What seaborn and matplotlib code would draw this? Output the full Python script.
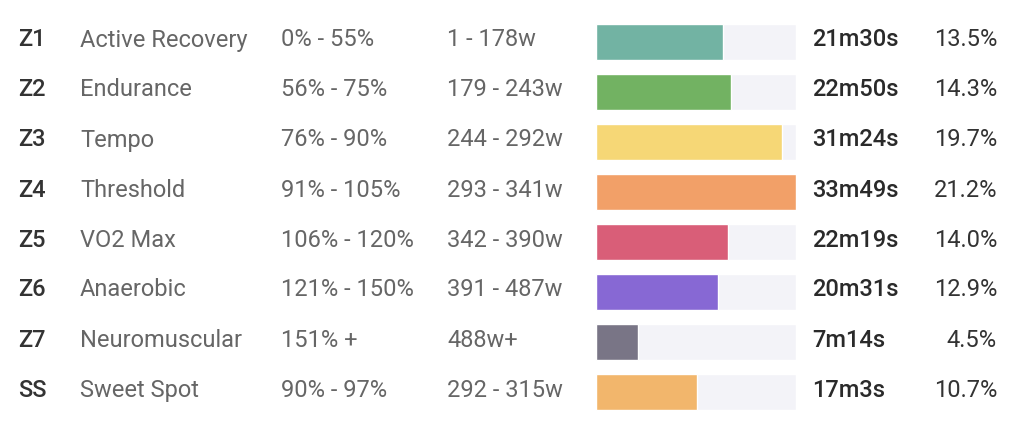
import matplotlib
matplotlib.use("Agg")
import matplotlib.pyplot as plt
import matplotlib.transforms as mtransforms
import seaborn as sns
import pandas as pd

zones = ["Z1", "Z2", "Z3", "Z4", "Z5", "Z6", "Z7", "SS"]
names = ["Active Recovery", "Endurance", "Tempo", "Threshold", "VO2 Max",
         "Anaerobic", "Neuromuscular", "Sweet Spot"]
ftp_ranges = ["0% - 55%", "56% - 75%", "76% - 90%", "91% - 105%", "106% - 120%",
              "121% - 150%", "151% +", "90% - 97%"]
watt_ranges = ["1 - 178w", "179 - 243w", "244 - 292w", "293 - 341w", "342 - 390w",
               "391 - 487w", "488w+", "292 - 315w"]
times = ["21m30s", "22m50s", "31m24s", "33m49s", "22m19s", "20m31s", "7m14s", "17m3s"]
shares = [13.5, 14.3, 19.7, 21.2, 14.0, 12.9, 4.5, 10.7]
colors = ["#72b3a3", "#72b262", "#f6d776", "#f2a068", "#d95e78",
          "#8768d4", "#797586", "#f2b66c"]

df = pd.DataFrame({"zone": zones, "share": shares})
df["full"] = max(shares)

sns.set_style("white")
plt.rcParams["font.family"] = ["Roboto", "DejaVu Sans"]

W, H = 1022, 436
fig = plt.figure(figsize=(W / 100, H / 100), dpi=100)
fig.patch.set_facecolor("white")
ax = fig.add_axes([596 / W, 19 / H, 200 / W, 400 / H])

# grey track behind each bar, then the coloured share on top
sns.barplot(data=df, x="full", y="zone", color="#f3f3f8", width=0.72,
            saturation=1, ax=ax)
sns.barplot(data=df, x="share", y="zone", hue="zone", palette=colors,
            width=0.72, saturation=1, legend=False, ax=ax)
ax.set_xlim(0, max(shares))
ax.set_ylim(len(zones) - 0.5, -0.5)
ax.axis("off")

tr = mtransforms.blended_transform_factory(fig.transFigure, ax.transData)
fs = 17
for i in range(len(zones)):
    kw = dict(transform=tr, va="center", fontsize=fs)
    ax.text(18 / W, i - 0.04, zones[i], color="#333333", fontweight="medium", **kw)
    ax.text(80 / W, i - 0.04, names[i], color="#666666", **kw)
    ax.text(281 / W, i - 0.04, ftp_ranges[i], color="#666666", **kw)
    ax.text(447 / W, i - 0.04, watt_ranges[i], color="#666666", **kw)
    ax.text(812 / W, i - 0.04, times[i], color="#2a2a2a", fontweight="medium", **kw)
    ax.text(997 / W, i - 0.04, f"{shares[i]:.1f}%", color="#333333", ha="right", **kw)

fig.savefig("out.png", dpi=100, facecolor="white")
